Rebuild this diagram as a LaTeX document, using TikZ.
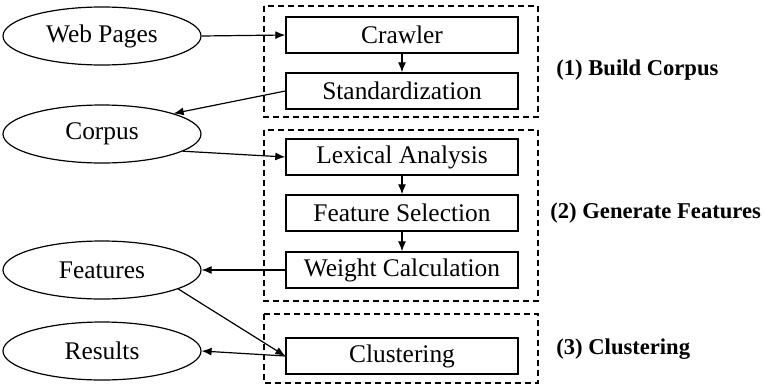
\documentclass[tikz,border=0pt]{standalone}
\usepackage{fontspec}
\setmainfont{Liberation Serif}
\usetikzlibrary{shapes.geometric,arrows.meta}

\tikzset{
  data/.style={draw, ellipse, line width=0.6pt, inner sep=0pt,
    minimum width=99pt, minimum height=29pt, font=\fontsize{12.7}{15}\selectfont},
  stepbox/.style={draw, rectangle, line width=0.7pt, inner sep=0pt,
    minimum width=116pt, minimum height=18pt, font=\fontsize{12.7}{15}\selectfont},
  phase/.style={anchor=west, inner sep=0pt, font=\fontsize{11.3}{14}\selectfont\bfseries},
  frame/.style={dash pattern=on 3pt off 2pt, line width=0.6pt},
  flow/.style={-{Latex[length=5pt,width=4pt]}, line width=0.6pt}
}

\begin{document}
\begin{tikzpicture}[x=0.5pt,y=-0.5pt]
  \useasboundingbox (0,0) rectangle (764,386);

  % Data (ellipses on the left)
  \node[data] (web)   at (102,36)  {Web Pages};
  \node[data] (corp)  at (102,134) {Corpus};
  \node[data] (feat)  at (102,270) {Features};
  \node[data] (res)   at (102,351) {Results};

  % Processing steps
  \node[stepbox] (crawl) at (402,35)  {Crawler};
  \node[stepbox] (std)   at (402,91)  {Standardization};
  \node[stepbox] (lex)   at (402,157) {Lexical Analysis};
  \node[stepbox] (sel)   at (402,213) {Feature Selection};
  \node[stepbox] (wgt)   at (402,270) {Weight Calculation};
  \node[stepbox] (clu)   at (402,356) {Clustering};

  % Phase frames
  \draw[frame] (264,6)   rectangle (538,117);
  \draw[frame] (264,130) rectangle (538,301);
  \draw[frame] (264,314) rectangle (538,383);

  % Phase labels
  \node[phase] (p1) at (556,70)  {(1) Build Corpus};
  \node[phase] (p2) at (550,213) {(2) Generate Features};
  \node[phase] (p3) at (556,349) {(3) Clustering};

  % Arrows
  \draw[flow] (web.east) -- (crawl.west);
  \draw[flow] (crawl) -- (std);
  \draw[flow] (std.west) -- (corp.16);
  \draw[flow] (corp.-12) -- (lex.west);
  \draw[flow] (lex) -- (sel);
  \draw[flow] (sel) -- (wgt);
  \draw[flow] (wgt.west) -- (feat.east);
  \draw[flow] (feat.-14) -- (clu.west);
  \draw[flow] (clu.west) -- (res.east);
\end{tikzpicture}
\end{document}
